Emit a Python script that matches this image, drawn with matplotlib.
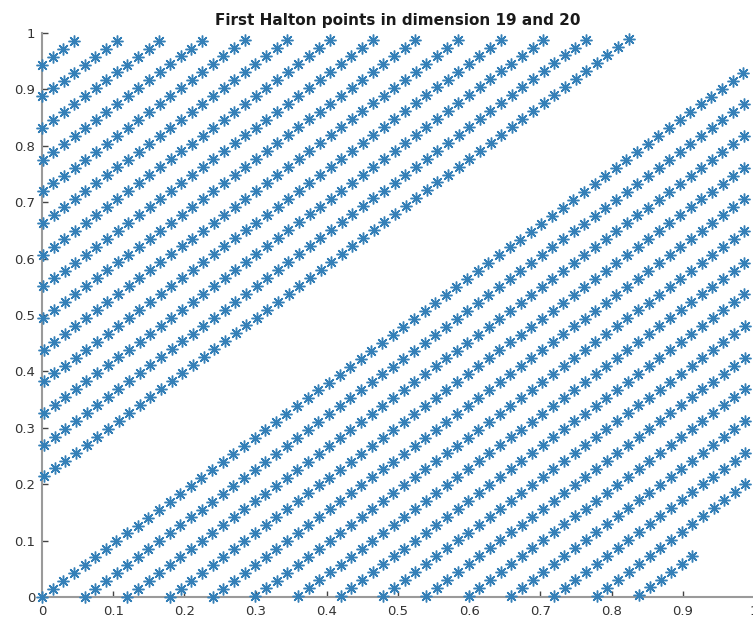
import numpy as np
import matplotlib
matplotlib.use("Agg")
import matplotlib.pyplot as plt

# Halton coordinates for points 0..999, stored as integer numerators.
# x (dimension 19, base 67): value = x_num / 67**2
# y (dimension 20, base 71): value = y_num / 71**2
x_num = [
    0, 67, 134, 201, 268, 335, 402, 469, 536, 603, 670, 737, 804, 871, 938, 1005, 1072, 1139, 1206, 1273, 1340, 1407, 1474, 1541, 1608, 1675, 1742, 1809, 1876, 1943, 2010, 2077, 2144, 2211, 2278, 2345, 2412, 2479, 2546, 2613, 2680, 2747, 2814, 2881, 2948, 3015, 3082, 3149, 3216, 3283, 3350, 3417, 3484, 3551, 3618, 3685, 3752, 3819, 3886, 3953, 4020, 4087, 4154, 4221, 4288, 4355, 4422,
    1, 68, 135, 202, 269, 336, 403, 470, 537, 604, 671, 738, 805, 872, 939, 1006, 1073, 1140, 1207, 1274, 1341, 1408, 1475, 1542, 1609, 1676, 1743, 1810, 1877, 1944, 2011, 2078, 2145, 2212, 2279, 2346, 2413, 2480, 2547, 2614, 2681, 2748, 2815, 2882, 2949, 3016, 3083, 3150, 3217, 3284, 3351, 3418, 3485, 3552, 3619, 3686, 3753, 3820, 3887, 3954, 4021, 4088, 4155, 4222, 4289, 4356, 4423,
    2, 69, 136, 203, 270, 337, 404, 471, 538, 605, 672, 739, 806, 873, 940, 1007, 1074, 1141, 1208, 1275, 1342, 1409, 1476, 1543, 1610, 1677, 1744, 1811, 1878, 1945, 2012, 2079, 2146, 2213, 2280, 2347, 2414, 2481, 2548, 2615, 2682, 2749, 2816, 2883, 2950, 3017, 3084, 3151, 3218, 3285, 3352, 3419, 3486, 3553, 3620, 3687, 3754, 3821, 3888, 3955, 4022, 4089, 4156, 4223, 4290, 4357, 4424,
    3, 70, 137, 204, 271, 338, 405, 472, 539, 606, 673, 740, 807, 874, 941, 1008, 1075, 1142, 1209, 1276, 1343, 1410, 1477, 1544, 1611, 1678, 1745, 1812, 1879, 1946, 2013, 2080, 2147, 2214, 2281, 2348, 2415, 2482, 2549, 2616, 2683, 2750, 2817, 2884, 2951, 3018, 3085, 3152, 3219, 3286, 3353, 3420, 3487, 3554, 3621, 3688, 3755, 3822, 3889, 3956, 4023, 4090, 4157, 4224, 4291, 4358, 4425,
    4, 71, 138, 205, 272, 339, 406, 473, 540, 607, 674, 741, 808, 875, 942, 1009, 1076, 1143, 1210, 1277, 1344, 1411, 1478, 1545, 1612, 1679, 1746, 1813, 1880, 1947, 2014, 2081, 2148, 2215, 2282, 2349, 2416, 2483, 2550, 2617, 2684, 2751, 2818, 2885, 2952, 3019, 3086, 3153, 3220, 3287, 3354, 3421, 3488, 3555, 3622, 3689, 3756, 3823, 3890, 3957, 4024, 4091, 4158, 4225, 4292, 4359, 4426,
    5, 72, 139, 206, 273, 340, 407, 474, 541, 608, 675, 742, 809, 876, 943, 1010, 1077, 1144, 1211, 1278, 1345, 1412, 1479, 1546, 1613, 1680, 1747, 1814, 1881, 1948, 2015, 2082, 2149, 2216, 2283, 2350, 2417, 2484, 2551, 2618, 2685, 2752, 2819, 2886, 2953, 3020, 3087, 3154, 3221, 3288, 3355, 3422, 3489, 3556, 3623, 3690, 3757, 3824, 3891, 3958, 4025, 4092, 4159, 4226, 4293, 4360, 4427,
    6, 73, 140, 207, 274, 341, 408, 475, 542, 609, 676, 743, 810, 877, 944, 1011, 1078, 1145, 1212, 1279, 1346, 1413, 1480, 1547, 1614, 1681, 1748, 1815, 1882, 1949, 2016, 2083, 2150, 2217, 2284, 2351, 2418, 2485, 2552, 2619, 2686, 2753, 2820, 2887, 2954, 3021, 3088, 3155, 3222, 3289, 3356, 3423, 3490, 3557, 3624, 3691, 3758, 3825, 3892, 3959, 4026, 4093, 4160, 4227, 4294, 4361, 4428,
    7, 74, 141, 208, 275, 342, 409, 476, 543, 610, 677, 744, 811, 878, 945, 1012, 1079, 1146, 1213, 1280, 1347, 1414, 1481, 1548, 1615, 1682, 1749, 1816, 1883, 1950, 2017, 2084, 2151, 2218, 2285, 2352, 2419, 2486, 2553, 2620, 2687, 2754, 2821, 2888, 2955, 3022, 3089, 3156, 3223, 3290, 3357, 3424, 3491, 3558, 3625, 3692, 3759, 3826, 3893, 3960, 4027, 4094, 4161, 4228, 4295, 4362, 4429,
    8, 75, 142, 209, 276, 343, 410, 477, 544, 611, 678, 745, 812, 879, 946, 1013, 1080, 1147, 1214, 1281, 1348, 1415, 1482, 1549, 1616, 1683, 1750, 1817, 1884, 1951, 2018, 2085, 2152, 2219, 2286, 2353, 2420, 2487, 2554, 2621, 2688, 2755, 2822, 2889, 2956, 3023, 3090, 3157, 3224, 3291, 3358, 3425, 3492, 3559, 3626, 3693, 3760, 3827, 3894, 3961, 4028, 4095, 4162, 4229, 4296, 4363, 4430,
    9, 76, 143, 210, 277, 344, 411, 478, 545, 612, 679, 746, 813, 880, 947, 1014, 1081, 1148, 1215, 1282, 1349, 1416, 1483, 1550, 1617, 1684, 1751, 1818, 1885, 1952, 2019, 2086, 2153, 2220, 2287, 2354, 2421, 2488, 2555, 2622, 2689, 2756, 2823, 2890, 2957, 3024, 3091, 3158, 3225, 3292, 3359, 3426, 3493, 3560, 3627, 3694, 3761, 3828, 3895, 3962, 4029, 4096, 4163, 4230, 4297, 4364, 4431,
    10, 77, 144, 211, 278, 345, 412, 479, 546, 613, 680, 747, 814, 881, 948, 1015, 1082, 1149, 1216, 1283, 1350, 1417, 1484, 1551, 1618, 1685, 1752, 1819, 1886, 1953, 2020, 2087, 2154, 2221, 2288, 2355, 2422, 2489, 2556, 2623, 2690, 2757, 2824, 2891, 2958, 3025, 3092, 3159, 3226, 3293, 3360, 3427, 3494, 3561, 3628, 3695, 3762, 3829, 3896, 3963, 4030, 4097, 4164, 4231, 4298, 4365, 4432,
    11, 78, 145, 212, 279, 346, 413, 480, 547, 614, 681, 748, 815, 882, 949, 1016, 1083, 1150, 1217, 1284, 1351, 1418, 1485, 1552, 1619, 1686, 1753, 1820, 1887, 1954, 2021, 2088, 2155, 2222, 2289, 2356, 2423, 2490, 2557, 2624, 2691, 2758, 2825, 2892, 2959, 3026, 3093, 3160, 3227, 3294, 3361, 3428, 3495, 3562, 3629, 3696, 3763, 3830, 3897, 3964, 4031, 4098, 4165, 4232, 4299, 4366, 4433,
    12, 79, 146, 213, 280, 347, 414, 481, 548, 615, 682, 749, 816, 883, 950, 1017, 1084, 1151, 1218, 1285, 1352, 1419, 1486, 1553, 1620, 1687, 1754, 1821, 1888, 1955, 2022, 2089, 2156, 2223, 2290, 2357, 2424, 2491, 2558, 2625, 2692, 2759, 2826, 2893, 2960, 3027, 3094, 3161, 3228, 3295, 3362, 3429, 3496, 3563, 3630, 3697, 3764, 3831, 3898, 3965, 4032, 4099, 4166, 4233, 4300, 4367, 4434,
    13, 80, 147, 214, 281, 348, 415, 482, 549, 616, 683, 750, 817, 884, 951, 1018, 1085, 1152, 1219, 1286, 1353, 1420, 1487, 1554, 1621, 1688, 1755, 1822, 1889, 1956, 2023, 2090, 2157, 2224, 2291, 2358, 2425, 2492, 2559, 2626, 2693, 2760, 2827, 2894, 2961, 3028, 3095, 3162, 3229, 3296, 3363, 3430, 3497, 3564, 3631, 3698, 3765, 3832, 3899, 3966, 4033, 4100, 4167, 4234, 4301, 4368, 4435,
    14, 81, 148, 215, 282, 349, 416, 483, 550, 617, 684, 751, 818, 885, 952, 1019, 1086, 1153, 1220, 1287, 1354, 1421, 1488, 1555, 1622, 1689, 1756, 1823, 1890, 1957, 2024, 2091, 2158, 2225, 2292, 2359, 2426, 2493, 2560, 2627, 2694, 2761, 2828, 2895, 2962, 3029, 3096, 3163, 3230, 3297, 3364, 3431, 3498, 3565, 3632, 3699, 3766, 3833, 3900, 3967, 4034, 4101,
]

y_num = [
    0, 71, 142, 213, 284, 355, 426, 497, 568, 639, 710, 781, 852, 923, 994, 1065, 1136, 1207, 1278, 1349, 1420, 1491, 1562, 1633, 1704, 1775, 1846, 1917, 1988, 2059, 2130, 2201, 2272, 2343, 2414, 2485, 2556, 2627, 2698, 2769, 2840, 2911, 2982, 3053, 3124, 3195, 3266, 3337, 3408, 3479, 3550, 3621, 3692, 3763, 3834, 3905, 3976, 4047, 4118, 4189, 4260, 4331, 4402, 4473, 4544, 4615, 4686, 4757, 4828, 4899, 4970,
    1, 72, 143, 214, 285, 356, 427, 498, 569, 640, 711, 782, 853, 924, 995, 1066, 1137, 1208, 1279, 1350, 1421, 1492, 1563, 1634, 1705, 1776, 1847, 1918, 1989, 2060, 2131, 2202, 2273, 2344, 2415, 2486, 2557, 2628, 2699, 2770, 2841, 2912, 2983, 3054, 3125, 3196, 3267, 3338, 3409, 3480, 3551, 3622, 3693, 3764, 3835, 3906, 3977, 4048, 4119, 4190, 4261, 4332, 4403, 4474, 4545, 4616, 4687, 4758, 4829, 4900, 4971,
    2, 73, 144, 215, 286, 357, 428, 499, 570, 641, 712, 783, 854, 925, 996, 1067, 1138, 1209, 1280, 1351, 1422, 1493, 1564, 1635, 1706, 1777, 1848, 1919, 1990, 2061, 2132, 2203, 2274, 2345, 2416, 2487, 2558, 2629, 2700, 2771, 2842, 2913, 2984, 3055, 3126, 3197, 3268, 3339, 3410, 3481, 3552, 3623, 3694, 3765, 3836, 3907, 3978, 4049, 4120, 4191, 4262, 4333, 4404, 4475, 4546, 4617, 4688, 4759, 4830, 4901, 4972,
    3, 74, 145, 216, 287, 358, 429, 500, 571, 642, 713, 784, 855, 926, 997, 1068, 1139, 1210, 1281, 1352, 1423, 1494, 1565, 1636, 1707, 1778, 1849, 1920, 1991, 2062, 2133, 2204, 2275, 2346, 2417, 2488, 2559, 2630, 2701, 2772, 2843, 2914, 2985, 3056, 3127, 3198, 3269, 3340, 3411, 3482, 3553, 3624, 3695, 3766, 3837, 3908, 3979, 4050, 4121, 4192, 4263, 4334, 4405, 4476, 4547, 4618, 4689, 4760, 4831, 4902, 4973,
    4, 75, 146, 217, 288, 359, 430, 501, 572, 643, 714, 785, 856, 927, 998, 1069, 1140, 1211, 1282, 1353, 1424, 1495, 1566, 1637, 1708, 1779, 1850, 1921, 1992, 2063, 2134, 2205, 2276, 2347, 2418, 2489, 2560, 2631, 2702, 2773, 2844, 2915, 2986, 3057, 3128, 3199, 3270, 3341, 3412, 3483, 3554, 3625, 3696, 3767, 3838, 3909, 3980, 4051, 4122, 4193, 4264, 4335, 4406, 4477, 4548, 4619, 4690, 4761, 4832, 4903, 4974,
    5, 76, 147, 218, 289, 360, 431, 502, 573, 644, 715, 786, 857, 928, 999, 1070, 1141, 1212, 1283, 1354, 1425, 1496, 1567, 1638, 1709, 1780, 1851, 1922, 1993, 2064, 2135, 2206, 2277, 2348, 2419, 2490, 2561, 2632, 2703, 2774, 2845, 2916, 2987, 3058, 3129, 3200, 3271, 3342, 3413, 3484, 3555, 3626, 3697, 3768, 3839, 3910, 3981, 4052, 4123, 4194, 4265, 4336, 4407, 4478, 4549, 4620, 4691, 4762, 4833, 4904, 4975,
    6, 77, 148, 219, 290, 361, 432, 503, 574, 645, 716, 787, 858, 929, 1000, 1071, 1142, 1213, 1284, 1355, 1426, 1497, 1568, 1639, 1710, 1781, 1852, 1923, 1994, 2065, 2136, 2207, 2278, 2349, 2420, 2491, 2562, 2633, 2704, 2775, 2846, 2917, 2988, 3059, 3130, 3201, 3272, 3343, 3414, 3485, 3556, 3627, 3698, 3769, 3840, 3911, 3982, 4053, 4124, 4195, 4266, 4337, 4408, 4479, 4550, 4621, 4692, 4763, 4834, 4905, 4976,
    7, 78, 149, 220, 291, 362, 433, 504, 575, 646, 717, 788, 859, 930, 1001, 1072, 1143, 1214, 1285, 1356, 1427, 1498, 1569, 1640, 1711, 1782, 1853, 1924, 1995, 2066, 2137, 2208, 2279, 2350, 2421, 2492, 2563, 2634, 2705, 2776, 2847, 2918, 2989, 3060, 3131, 3202, 3273, 3344, 3415, 3486, 3557, 3628, 3699, 3770, 3841, 3912, 3983, 4054, 4125, 4196, 4267, 4338, 4409, 4480, 4551, 4622, 4693, 4764, 4835, 4906, 4977,
    8, 79, 150, 221, 292, 363, 434, 505, 576, 647, 718, 789, 860, 931, 1002, 1073, 1144, 1215, 1286, 1357, 1428, 1499, 1570, 1641, 1712, 1783, 1854, 1925, 1996, 2067, 2138, 2209, 2280, 2351, 2422, 2493, 2564, 2635, 2706, 2777, 2848, 2919, 2990, 3061, 3132, 3203, 3274, 3345, 3416, 3487, 3558, 3629, 3700, 3771, 3842, 3913, 3984, 4055, 4126, 4197, 4268, 4339, 4410, 4481, 4552, 4623, 4694, 4765, 4836, 4907, 4978,
    9, 80, 151, 222, 293, 364, 435, 506, 577, 648, 719, 790, 861, 932, 1003, 1074, 1145, 1216, 1287, 1358, 1429, 1500, 1571, 1642, 1713, 1784, 1855, 1926, 1997, 2068, 2139, 2210, 2281, 2352, 2423, 2494, 2565, 2636, 2707, 2778, 2849, 2920, 2991, 3062, 3133, 3204, 3275, 3346, 3417, 3488, 3559, 3630, 3701, 3772, 3843, 3914, 3985, 4056, 4127, 4198, 4269, 4340, 4411, 4482, 4553, 4624, 4695, 4766, 4837, 4908, 4979,
    10, 81, 152, 223, 294, 365, 436, 507, 578, 649, 720, 791, 862, 933, 1004, 1075, 1146, 1217, 1288, 1359, 1430, 1501, 1572, 1643, 1714, 1785, 1856, 1927, 1998, 2069, 2140, 2211, 2282, 2353, 2424, 2495, 2566, 2637, 2708, 2779, 2850, 2921, 2992, 3063, 3134, 3205, 3276, 3347, 3418, 3489, 3560, 3631, 3702, 3773, 3844, 3915, 3986, 4057, 4128, 4199, 4270, 4341, 4412, 4483, 4554, 4625, 4696, 4767, 4838, 4909, 4980,
    11, 82, 153, 224, 295, 366, 437, 508, 579, 650, 721, 792, 863, 934, 1005, 1076, 1147, 1218, 1289, 1360, 1431, 1502, 1573, 1644, 1715, 1786, 1857, 1928, 1999, 2070, 2141, 2212, 2283, 2354, 2425, 2496, 2567, 2638, 2709, 2780, 2851, 2922, 2993, 3064, 3135, 3206, 3277, 3348, 3419, 3490, 3561, 3632, 3703, 3774, 3845, 3916, 3987, 4058, 4129, 4200, 4271, 4342, 4413, 4484, 4555, 4626, 4697, 4768, 4839, 4910, 4981,
    12, 83, 154, 225, 296, 367, 438, 509, 580, 651, 722, 793, 864, 935, 1006, 1077, 1148, 1219, 1290, 1361, 1432, 1503, 1574, 1645, 1716, 1787, 1858, 1929, 2000, 2071, 2142, 2213, 2284, 2355, 2426, 2497, 2568, 2639, 2710, 2781, 2852, 2923, 2994, 3065, 3136, 3207, 3278, 3349, 3420, 3491, 3562, 3633, 3704, 3775, 3846, 3917, 3988, 4059, 4130, 4201, 4272, 4343, 4414, 4485, 4556, 4627, 4698, 4769, 4840, 4911, 4982,
    13, 84, 155, 226, 297, 368, 439, 510, 581, 652, 723, 794, 865, 936, 1007, 1078, 1149, 1220, 1291, 1362, 1433, 1504, 1575, 1646, 1717, 1788, 1859, 1930, 2001, 2072, 2143, 2214, 2285, 2356, 2427, 2498, 2569, 2640, 2711, 2782, 2853, 2924, 2995, 3066, 3137, 3208, 3279, 3350, 3421, 3492, 3563, 3634, 3705, 3776, 3847, 3918, 3989, 4060, 4131, 4202, 4273, 4344, 4415, 4486, 4557, 4628, 4699, 4770, 4841, 4912, 4983,
    14, 85, 156, 227, 298, 369,
]

x_denom = 4489   # 67**2
y_denom = 5041   # 71**2

tick_values = [0, 0.1, 0.2, 0.3, 0.4, 0.5, 0.6, 0.7, 0.8, 0.9, 1]
tick_labels = ["0", "0.1", "0.2", "0.3", "0.4", "0.5", "0.6", "0.7", "0.8", "0.9", "1"]
title_text = "First Halton points in dimension 19 and 20"

assert len(x_num) == len(y_num)
x = np.array(x_num, dtype=float) / x_denom
y = np.array(y_num, dtype=float) / y_denom

plt.rcParams["font.family"] = ["DejaVu Sans"]

W, H = 753, 619
fig = plt.figure(figsize=(W / 100, H / 100), dpi=100)
ax = fig.add_axes([42 / W, 22 / H, 712 / W, 564 / H])

ax.plot(x, y, linestyle="none", marker=(8, 2, 0), markersize=8.5,
        markeredgewidth=1.05, color="#3580b8", clip_on=False, zorder=5)

ax.set_xlim(0, 1)
ax.set_ylim(0, 1)
ax.set_xticks(tick_values)
ax.set_xticklabels(tick_labels)
ax.set_yticks(tick_values)
ax.set_yticklabels(tick_labels)

axis_grey = "#9a9a9a"
for side in ("top", "right"):
    ax.spines[side].set_visible(False)
for side in ("left", "bottom"):
    ax.spines[side].set_color(axis_grey)
    ax.spines[side].set_linewidth(1.5)

ax.tick_params(axis="both", direction="in", length=4, width=1.0,
               color="#444444", labelcolor="#333333", labelsize=9.5)
ax.tick_params(axis="x", pad=6)
ax.tick_params(axis="y", pad=5)

ax.set_title(title_text, fontsize=11, fontweight="bold", pad=6, color="#1a1a1a")

fig.savefig("out.png", dpi=100)
